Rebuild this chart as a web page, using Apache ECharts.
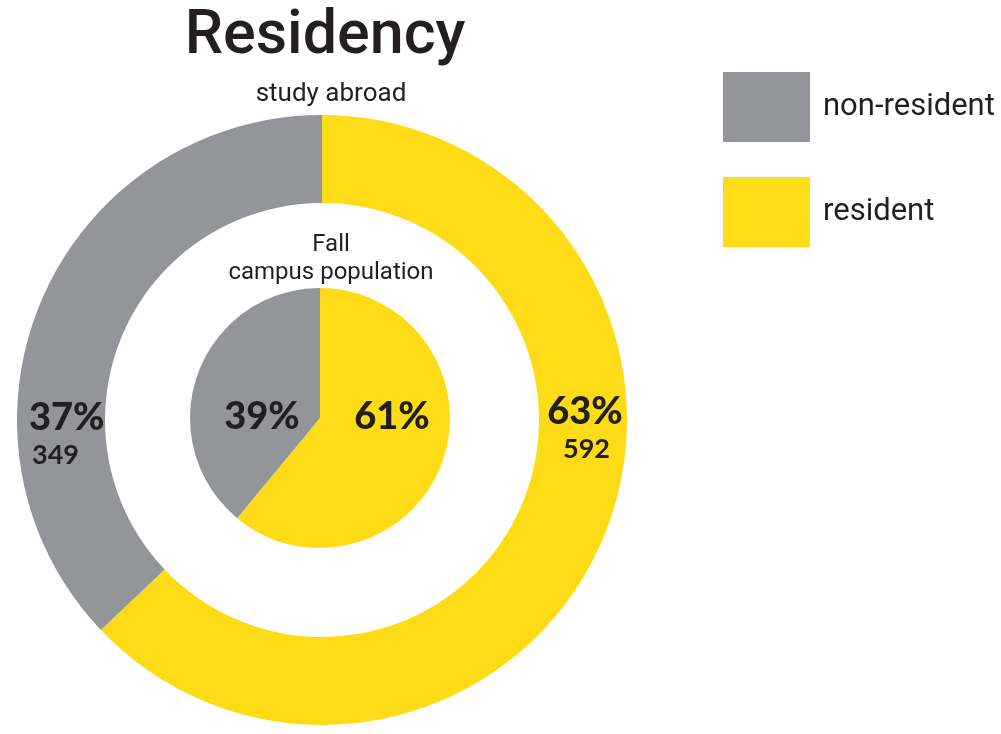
<!DOCTYPE html>
<html>
<head>
<meta charset="utf-8">
<script src="https://cdn.jsdelivr.net/npm/echarts@6/dist/echarts.min.js"></script>
<style>
  html, body { margin: 0; padding: 0; background: #fff; }
  #main { width: 1001px; height: 734px; }
</style>
</head>
<body>
<div id="main"></div>
<script>
// data
var categories = ['resident', 'non-resident'];
var legendOrder = ['non-resident', 'resident'];
var studyAbroadCounts = [592, 349];
var studyAbroadPct = ['63%', '37%'];
var campusPct = [61, 39];

var colors = { 'resident': '#fddb17', 'non-resident': '#939598' };
var ink = '#231f20';

var outerData = categories.map(function (c, i) {
  return { name: c, value: studyAbroadCounts[i], pct: studyAbroadPct[i], itemStyle: { color: colors[c] } };
});
var innerData = categories.map(function (c, i) {
  return { name: c, value: campusPct[i], itemStyle: { color: colors[c] } };
});

// where the labels sit (pixels)
var outerLabelPos = [[585, 428, 'center'], [29, 434, 'left']];
var innerLabelPos = [[392, 417], [262, 417]];

var myChart = echarts.init(document.getElementById('main'));
myChart.setOption({
  animation: false,
  title: [
    {
      text: 'Residency', left: 320, top: 2, textAlign: 'center',
      textStyle: { fontFamily: 'Roboto', fontWeight: 500, fontSize: 61, color: ink }
    },
    {
      text: 'study abroad', left: 326, top: 76, textAlign: 'center',
      textStyle: { fontFamily: 'Roboto', fontWeight: 'normal', fontSize: 26, color: ink }
    },
    {
      text: 'Fall\ncampus population', left: 326, top: 226, textAlign: 'center',
      textStyle: { fontFamily: 'Roboto', fontWeight: 'normal', fontSize: 24, lineHeight: 28, color: ink }
    }
  ],
  legend: {
    orient: 'vertical',
    left: 718, top: 67,
    itemWidth: 87, itemHeight: 70, itemGap: 35,
    icon: 'rect',
    data: legendOrder,
    selectedMode: false,
    textStyle: { fontFamily: 'Roboto', fontSize: 31, color: ink, padding: [0, 0, 0, 8] }
  },
  series: [
    {
      type: 'pie',
      center: [322, 420],
      radius: [217, 305],
      startAngle: 90,
      clockwise: true,
      silent: true,
      data: outerData,
      label: {
        show: true,
        position: 'inside',
        formatter: function (p) { return '{p|' + p.data.pct + '}\n{v|' + p.value + '}'; },
        rich: {
          p: { fontFamily: 'Lato', fontWeight: 900, fontSize: 38, color: ink, lineHeight: 42 },
          v: { fontFamily: 'Lato', fontWeight: 'bold', fontSize: 27, color: ink, lineHeight: 32, padding: [0, 0, 0, 3] }
        }
      },
      labelLayout: function (p) {
        var pos = outerLabelPos[p.dataIndex];
        return { x: pos[0], y: pos[1], align: pos[2], verticalAlign: 'middle' };
      },
      labelLine: { show: false }
    },
    {
      type: 'pie',
      center: [320, 418],
      radius: [0, 130],
      startAngle: 90,
      clockwise: true,
      silent: true,
      data: innerData,
      label: {
        show: true,
        position: 'inside',
        formatter: '{c}%',
        fontFamily: 'Lato', fontWeight: 900, fontSize: 38, color: ink
      },
      labelLayout: function (p) {
        var pos = innerLabelPos[p.dataIndex];
        return { x: pos[0], y: pos[1], align: 'center', verticalAlign: 'middle' };
      },
      labelLine: { show: false }
    }
  ]
});
</script>
</body>
</html>
